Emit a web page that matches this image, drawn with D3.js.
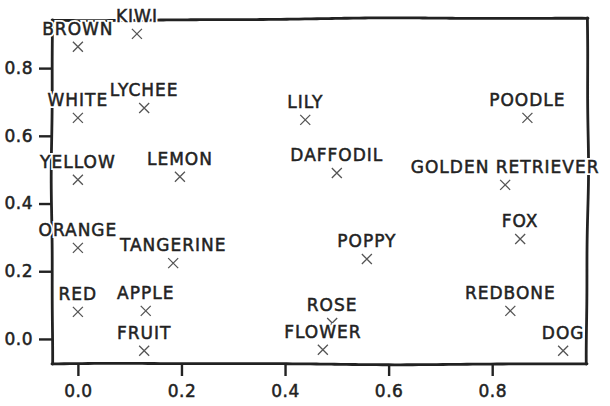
<!DOCTYPE html>
<html>
<head>
<meta charset="utf-8">
<script src="https://cdn.jsdelivr.net/npm/d3@7"></script>
<style>
  body { margin: 0; background: #fff; }
  svg text { font-family: "DejaVu Sans", sans-serif; }
</style>
</head>
<body>
<svg id="chart" width="610" height="406"></svg>
<script>
// words and their 2d coordinates
const labels = ['BROWN', 'KIWI', 'WHITE', 'LYCHEE', 'LILY', 'POODLE', 'YELLOW', 'LEMON',
  'DAFFODIL', 'GOLDEN RETRIEVER', 'ORANGE', 'TANGERINE', 'POPPY', 'FOX', 'RED', 'APPLE',
  'ROSE', 'FLOWER', 'FRUIT', 'REDBONE', 'DOG'];
const xs = [0.0, 0.114, 0.0, 0.128, 0.439, 0.868, 0.0, 0.197,
  0.500, 0.825, 0.0, 0.184, 0.558, 0.854, 0.0, 0.131,
  0.491, 0.473, 0.128, 0.835, 0.937];
const ys = [0.863, 0.901, 0.653, 0.682, 0.647, 0.653, 0.470, 0.479,
  0.490, 0.455, 0.269, 0.224, 0.236, 0.295, 0.080, 0.083,
  0.047, -0.032, -0.035, 0.083, -0.035];
const xTicks = [0.0, 0.2, 0.4, 0.6, 0.8];
const yTicks = [0.0, 0.2, 0.4, 0.6, 0.8];

const svg = d3.select('#chart');
const mLeft = 52, mRight = 588, mTop = 18, mBottom = 364;

const x = d3.scaleLinear().domain([-0.05, 0.985]).range([mLeft, mRight]);
const y = d3.scaleLinear().domain([-0.074, 0.948]).range([mBottom, mTop]);

// hand drawn look: small deterministic wiggle along a segment
function wobbly(x1, y1, x2, y2, amp, phase) {
  const len = Math.hypot(x2 - x1, y2 - y1);
  const n = Math.max(2, Math.round(len / 6));
  const nx = -(y2 - y1) / len, ny = (x2 - x1) / len;
  const pts = [];
  for (let i = 0; i <= n; i++) {
    const t = i / n;
    const off = amp * (Math.sin(t * 7 + phase) * 0.7 + Math.sin(t * 17 + phase * 2) * 0.3);
    pts.push([x1 + (x2 - x1) * t + nx * off, y1 + (y2 - y1) * t + ny * off]);
  }
  return d3.line().curve(d3.curveBasis)(pts);
}

// axes ticks
const xAxis = svg.append('g')
  .attr('transform', `translate(0,${mBottom})`)
  .call(d3.axisBottom(x).tickValues(xTicks).tickFormat(d3.format('.1f')).tickSize(12).tickPadding(9));
const yAxis = svg.append('g')
  .attr('transform', `translate(${mLeft},0)`)
  .call(d3.axisLeft(y).tickValues(yTicks).tickFormat(d3.format('.1f')).tickSize(13).tickPadding(6));
[xAxis, yAxis].forEach(g => {
  g.select('.domain').remove();
  g.selectAll('.tick line').attr('stroke', '#222').attr('stroke-width', 2.4);
  g.selectAll('.tick text').attr('fill', '#222').attr('stroke', '#222').attr('stroke-width', 0.5)
    .style('font-size', '17px').style('letter-spacing', '0.5px')
    .style('font-family', '"DejaVu Sans", sans-serif');
});

// frame
const frame = svg.append('g').attr('fill', 'none').attr('stroke', '#222')
  .attr('stroke-width', 2.8).attr('stroke-linecap', 'round');
frame.append('path').attr('d', wobbly(mLeft, mTop + 2, mRight, mTop, 0.9, 0.3));
frame.append('path').attr('d', wobbly(mRight, mTop, mRight - 1, mBottom, 1.0, 1.7));
frame.append('path').attr('d', wobbly(mRight - 1, mBottom, mLeft, mBottom, 0.8, 2.4));
frame.append('path').attr('d', wobbly(mLeft, mBottom, mLeft, mTop + 2, 0.8, 0.9));

// markers
const pts = labels.map((l, i) => ({label: l, x: xs[i], y: ys[i]}));
const m = 5;
svg.append('g').selectAll('path.mark')
  .data(pts)
  .join('path')
  .attr('class', 'mark')
  .attr('d', d => {
    const cx = x(d.x), cy = y(d.y);
    return `M${cx - m},${cy - m}L${cx + m},${cy + m}M${cx - m},${cy + m}L${cx + m},${cy - m}`;
  })
  .attr('stroke', '#555')
  .attr('stroke-width', 1.3)
  .attr('fill', 'none');

// labels: white halo first, then the ink
const lab = svg.append('g')
  .style('font-size', '17px')
  .style('letter-spacing', '1px')
  .attr('text-anchor', 'middle');
lab.selectAll('text.halo')
  .data(pts)
  .join('text')
  .attr('class', 'halo')
  .attr('x', d => x(d.x))
  .attr('y', d => y(d.y) - 12)
  .attr('fill', '#fff')
  .attr('stroke', '#fff')
  .attr('stroke-width', 4)
  .text(d => d.label);
lab.selectAll('text.ink')
  .data(pts)
  .join('text')
  .attr('class', 'ink')
  .attr('x', d => x(d.x))
  .attr('y', d => y(d.y) - 12)
  .attr('fill', '#222')
  .attr('stroke', '#222')
  .attr('stroke-width', 0.5)
  .text(d => d.label);
</script>
</body>
</html>
